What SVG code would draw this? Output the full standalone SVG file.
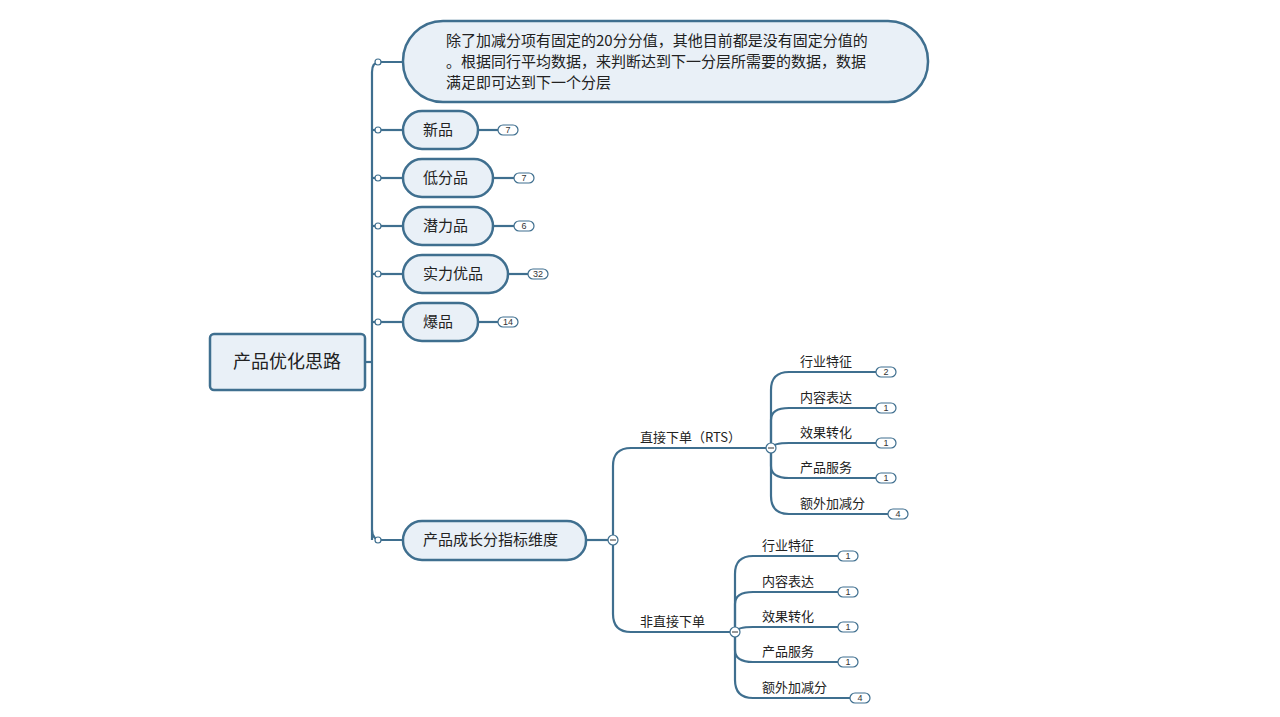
<svg xmlns="http://www.w3.org/2000/svg" width="1280" height="717" viewBox="0 0 1280 717">
<style>
.n{fill:#e9f0f7;stroke:#3f6f8f;stroke-width:2.5}
.c path,.c line{fill:none;stroke:#3f6f8f;stroke-width:2.2}
.dot{fill:#fff;stroke:#3f6f8f;stroke-width:1.2}
.b rect{fill:#fff;stroke:#3f6f8f;stroke-width:1.2}
.b text{font:9px "Liberation Sans",sans-serif;text-anchor:middle;fill:#333}
text{font-family:"Noto Sans CJK SC","Liberation Sans",sans-serif;fill:#222}
.t{font-size:15px}
.s{font-size:13px}
</style>
<rect width="1280" height="717" fill="#fff"/>
<g class="c">
<line x1="365" y1="362" x2="372" y2="362"/>
<path d="M372 540 V72 Q372 62 380 62 H403"/>
<line x1="372" y1="130" x2="403" y2="130"/>
<line x1="372" y1="178" x2="403" y2="178"/>
<line x1="372" y1="226" x2="403" y2="226"/>
<line x1="372" y1="274" x2="403" y2="274"/>
<line x1="372" y1="322" x2="403" y2="322"/>
<path d="M372 530 Q372 540 382 540 H403"/>
<line x1="478" y1="130" x2="498" y2="130"/><line x1="493" y1="178" x2="514" y2="178"/>
<line x1="493" y1="226" x2="514" y2="226"/><line x1="508" y1="274" x2="528" y2="274"/>
<line x1="478" y1="322" x2="498" y2="322"/>
<line x1="586" y1="540" x2="613" y2="540"/>
<path d="M613 540 V466 Q613 448 631 448 H771"/>
<path d="M613 540 V614 Q613 632 631 632 H735"/>
<path d="M771 448 V390 Q771 372 789 372 H876"/>
<path d="M771 448 V420 Q771 408 789 408 H876"/>
<path d="M771 448 Q773 443 789 443 H876"/>
<path d="M771 448 V466 Q771 478 789 478 H876"/>
<path d="M771 448 V496 Q771 514 789 514 H888"/>
<path d="M735 632 V574 Q735 556 753 556 H838"/>
<path d="M735 632 V604 Q735 592 753 592 H838"/>
<path d="M735 632 Q737 627 753 627 H838"/>
<path d="M735 632 V650 Q735 662 753 662 H838"/>
<path d="M735 632 V680 Q735 698 753 698 H850"/>
</g>
<g id="dots">
<circle class="dot" cx="378" cy="62" r="3"/><circle class="dot" cx="378" cy="130" r="3"/>
<circle class="dot" cx="378" cy="178" r="3"/><circle class="dot" cx="378" cy="226" r="3"/>
<circle class="dot" cx="378" cy="274" r="3"/><circle class="dot" cx="378" cy="322" r="3"/>
<circle class="dot" cx="378" cy="540" r="3"/>
<circle class="dot" cx="613" cy="540" r="5"/><line x1="610" y1="540" x2="616" y2="540" stroke="#333"/>
<circle class="dot" cx="771" cy="448" r="5"/><line x1="768" y1="448" x2="774" y2="448" stroke="#333"/>
<circle class="dot" cx="735" cy="632" r="5"/><line x1="732" y1="632" x2="738" y2="632" stroke="#333"/>
</g>
<g id="root"><rect class="n" x="210" y="334" width="155" height="56" rx="4"/><text x="287" y="368" font-size="18" text-anchor="middle">产品优化思路</text></g>
<g id="note"><rect class="n" x="403" y="21" width="525" height="81" rx="40"/>
<text class="t" x="446" y="46">除了加减分项有固定的20分分值，其他目前都是没有固定分值的</text>
<text class="t" x="446" y="67">。根据同行平均数据，来判断达到下一分层所需要的数据，数据</text>
<text class="t" x="446" y="88">满足即可达到下一个分层</text></g>
<g id="n1"><rect class="n" x="403" y="111" width="75" height="38" rx="19"/><text class="t" x="423" y="135">新品</text></g>
<g id="n2"><rect class="n" x="403" y="159" width="90" height="38" rx="19"/><text class="t" x="423" y="183">低分品</text></g>
<g id="n3"><rect class="n" x="403" y="207" width="90" height="38" rx="19"/><text class="t" x="423" y="231">潜力品</text></g>
<g id="n4"><rect class="n" x="403" y="255" width="105" height="38" rx="19"/><text class="t" x="423" y="279">实力优品</text></g>
<g id="n5"><rect class="n" x="403" y="303" width="75" height="38" rx="19"/><text class="t" x="423" y="327">爆品</text></g>
<g id="n6"><rect class="n" x="403" y="521" width="183" height="39" rx="19"/><text class="t" x="423" y="545">产品成长分指标维度</text></g>
<g id="labels">
<text class="s" x="640" y="442">直接下单（RTS）</text>
<text class="s" x="640" y="626">非直接下单</text>
<text class="s" x="800" y="366">行业特征</text><text class="s" x="800" y="402">内容表达</text>
<text class="s" x="800" y="437">效果转化</text><text class="s" x="800" y="472">产品服务</text>
<text class="s" x="800" y="508">额外加减分</text>
<text class="s" x="762" y="550">行业特征</text><text class="s" x="762" y="586">内容表达</text>
<text class="s" x="762" y="621">效果转化</text><text class="s" x="762" y="656">产品服务</text>
<text class="s" x="762" y="692">额外加减分</text>
</g>
<g class="b" id="badges">
<rect x="498" y="125" width="20" height="10" rx="5"/><text x="508" y="133">7</text>
<rect x="514" y="173" width="20" height="10" rx="5"/><text x="524" y="181">7</text>
<rect x="514" y="221" width="20" height="10" rx="5"/><text x="524" y="229">6</text>
<rect x="528" y="269" width="20" height="10" rx="5"/><text x="538" y="277">32</text>
<rect x="498" y="317" width="20" height="10" rx="5"/><text x="508" y="325">14</text>
<rect x="876" y="367" width="20" height="10" rx="5"/><text x="886" y="375">2</text>
<rect x="876" y="403" width="20" height="10" rx="5"/><text x="886" y="411">1</text>
<rect x="876" y="438" width="20" height="10" rx="5"/><text x="886" y="446">1</text>
<rect x="876" y="473" width="20" height="10" rx="5"/><text x="886" y="481">1</text>
<rect x="888" y="509" width="20" height="10" rx="5"/><text x="898" y="517">4</text>
<rect x="838" y="551" width="20" height="10" rx="5"/><text x="848" y="559">1</text>
<rect x="838" y="587" width="20" height="10" rx="5"/><text x="848" y="595">1</text>
<rect x="838" y="622" width="20" height="10" rx="5"/><text x="848" y="630">1</text>
<rect x="838" y="657" width="20" height="10" rx="5"/><text x="848" y="665">1</text>
<rect x="850" y="693" width="20" height="10" rx="5"/><text x="860" y="701">4</text>
</g>
</svg>
